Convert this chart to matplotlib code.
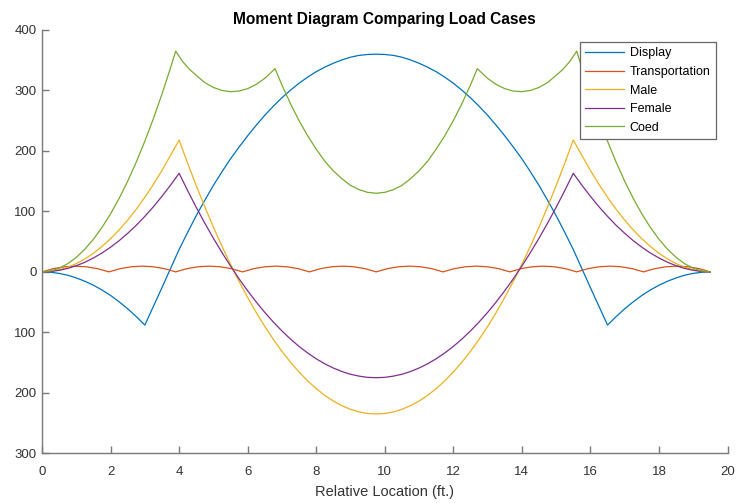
import numpy as np
import matplotlib
matplotlib.use("Agg")
import matplotlib.pyplot as plt

# x positions (ft) shared by Display / Male / Female, every 0.25 ft
x_grid = np.arange(0, 19.51, 0.25)

display_vals = [0, -0.6, -2.5, -5.5, -10, -15.5, -22, -30, -39, -49.5,
                -61, -74, -88, -57, -26, 5.5, 37, 65.5, 93, 118.5,
                143, 165.5, 187, 206.5, 225, 242.5, 259, 274, 288, 300.5,
                312, 322, 331, 338.5, 345, 350.5, 355, 358, 359.5, 360,
                359.5, 358, 355, 350.5, 345, 338.5, 331, 322, 312, 300.5,
                288, 274, 259, 242.5, 225, 206.5, 187, 165.5, 143, 118.5,
                93, 65.5, 37, 5.5, -26, -57, -88, -74, -61, -49.5,
                -39, -30, -22, -15.5, -10, -5.5, -2.5, -0.6, 0]
male_vals = [0, 0.9, 3.4, 7.7, 13.7, 21.4, 30.8, 42, 54.8, 69.4,
             85.6, 103.6, 123.3, 144.7, 167.8, 192.7, 218, 179.4, 142.6, 107.5,
             74.1, 42.4, 12.5, -15.8, -42.3, -67.2, -90.3, -111.7, -131.4, -149.4,
             -165.6, -180.2, -193, -204.2, -213.6, -221.3, -227.3, -231.6, -234.1, -235,
             -234.1, -231.6, -227.3, -221.3, -213.6, -204.2, -193, -180.2, -165.6, -149.4,
             -131.4, -111.7, -90.3, -67.2, -42.3, -15.8, 12.5, 42.4, 74.1, 107.5,
             142.6, 179.4, 218, 192.7, 167.8, 144.7, 123.3, 103.6, 85.6, 69.4,
             54.8, 42, 30.8, 21.4, 13.7, 7.7, 3.4, 0.9, 0]
female_vals = [0, 0.6, 2.6, 5.7, 10.2, 15.9, 23, 31.2, 40.8, 51.6,
               63.8, 77.1, 91.8, 107.7, 125, 143.4, 163, 134.2, 106.7, 80.5,
               55.6, 32, 9.6, -11.5, -31.3, -49.8, -67.1, -83, -97.7, -111.1,
               -123.3, -134.1, -143.7, -152, -159, -164.8, -169.3, -172.4, -174.4, -175,
               -174.4, -172.4, -169.3, -164.8, -159, -152, -143.7, -134.1, -123.3, -111.1,
               -97.7, -83, -67.1, -49.8, -31.3, -11.5, 9.6, 32, 55.6, 80.5,
               106.7, 134.2, 163, 143.4, 125, 107.7, 91.8, 77.1, 63.8, 51.6,
               40.8, 31.2, 23, 15.9, 10.2, 5.7, 2.6, 0.6, 0]

coed_x = [0, 0.25, 0.5, 0.75, 1, 1.25, 1.5, 1.75, 2, 2.25,
          2.5, 2.75, 3, 3.25, 3.5, 3.75, 3.9, 4.1, 4.3, 4.5,
          4.75, 5.0, 5.25, 5.5, 5.75, 6.0, 6.25, 6.5, 6.65, 6.8,
          7.0, 7.25, 7.5, 7.75, 8.0, 8.25, 8.5, 8.75, 9.0, 9.25,
          9.5, 9.75,
          10, 10.25, 10.5, 10.75, 11, 11.25, 11.5, 11.75, 12, 12.25,
          12.5, 12.7, 12.85, 13, 13.25, 13.5, 13.75, 14, 14.25, 14.5,
          14.75, 15, 15.2, 15.4, 15.6, 15.75, 16, 16.25, 16.5, 16.75,
          17, 17.25, 17.5, 17.75, 18, 18.25, 18.5, 18.75, 19, 19.25, 19.5]
coed_vals = [0, 1.5, 6, 13.5, 24, 37.5, 54, 73.5, 96, 121.5,
             150, 181.5, 216, 253.5, 294, 337.5, 365, 348, 335, 325,
             313, 305, 300, 298, 299, 303, 310, 320, 328, 336,
             309, 278, 250, 225, 203, 183, 167, 154, 143, 136,
             131.5, 130,
             131.5, 136, 143, 154, 167, 183, 203, 225, 250, 278,
             309, 336, 328, 320, 310, 303, 299, 298, 300, 305,
             313, 325, 335, 348, 365, 337.5, 294, 253.5, 216, 181.5,
             150, 121.5, 96, 73.5, 54, 37.5, 24, 13.5, 6, 1.5, 0]

transport_x = np.linspace(0, 19.5, 61)
transport_vals = [0, 5.3, 8.4, 9.5, 8.4, 5.3,
                  0, 5.3, 8.4, 9.5, 8.4, 5.3,
                  0, 5.3, 8.4, 9.5, 8.4, 5.3,
                  0, 5.3, 8.4, 9.5, 8.4, 5.3,
                  0, 5.3, 8.4, 9.5, 8.4, 5.3,
                  0, 5.3, 8.4, 9.5, 8.4, 5.3,
                  0, 5.3, 8.4, 9.5, 8.4, 5.3,
                  0, 5.3, 8.4, 9.5, 8.4, 5.3,
                  0, 5.3, 8.4, 9.5, 8.4, 5.3,
                  0, 5.3, 8.4, 9.5, 8.4, 5.3,
                  0]

y_ticks = [-300, -200, -100, 0, 100, 200, 300, 400]
y_ticklabels = ["300", "200", "100", "0", "100", "200", "300", "400"]
x_ticks = [0, 2, 4, 6, 8, 10, 12, 14, 16, 18, 20]

plt.rcParams['font.family'] = ['Liberation Sans', 'DejaVu Sans']

fig = plt.figure(figsize=(7.49, 5.03), dpi=100)
ax = fig.add_axes([0.0561, 0.0988, 0.9152, 0.8416])

lw = 0.9
ax.plot(x_grid, display_vals, color="#0072BD", lw=lw, label="Display")
ax.plot(transport_x, transport_vals, color="#D95319", lw=lw, label="Transportation")
ax.plot(x_grid, male_vals, color="#EDB120", lw=lw, label="Male")
ax.plot(x_grid, female_vals, color="#7E2F8E", lw=lw, label="Female")
ax.plot(coed_x, coed_vals, color="#77AC30", lw=lw, label="Coed")

ax.set_xlim(0, 20)
ax.set_ylim(-300, 400)
ax.set_xticks(x_ticks)
ax.set_yticks(y_ticks)
ax.set_yticklabels(y_ticklabels)

axis_col = "#7a7a7a"
for side in ["top", "right"]:
    ax.spines[side].set_visible(False)
for side in ["left", "bottom"]:
    ax.spines[side].set_color(axis_col)
    ax.spines[side].set_linewidth(1.0)
ax.tick_params(direction="in", length=5, width=1.0, color=axis_col,
               labelcolor="#333333", labelsize=9.5)
ax.tick_params(axis="x", pad=9)
ax.tick_params(axis="y", pad=4)

ax.set_xlabel("Relative Location (ft.)", fontsize=10.5, color="#333333", labelpad=5)
ax.set_title("Moment Diagram Comparing Load Cases", fontsize=11.2, fontweight="bold", pad=4)

leg = ax.legend(loc="upper right", bbox_to_anchor=(0.983, 0.9716), borderaxespad=0,
                fontsize=9, fancybox=False, framealpha=1, edgecolor="#666666",
                handlelength=3.1, handletextpad=0.45, labelspacing=0.53, borderpad=0.42)
leg.get_frame().set_linewidth(0.9)

fig.savefig("out.png", dpi=100, facecolor="white")
